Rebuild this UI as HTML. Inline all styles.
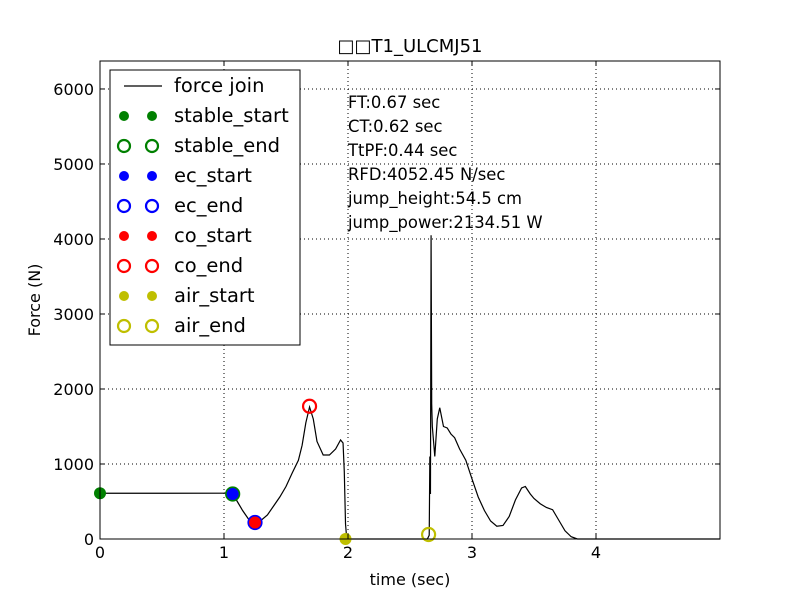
<!DOCTYPE html>
<html><head><meta charset="utf-8"><style>
body{margin:0;background:#fff;}
svg text{font-family:"DejaVu Sans","Liberation Sans","Noto Sans CJK SC",sans-serif;}
</style></head><body>
<svg id="chart" width="800" height="600" xmlns="http://www.w3.org/2000/svg">
<rect width="800" height="600" fill="#fff"/>
<g id="grid"></g>
<g id="series"></g>
<g id="markers"></g>
<rect x="100" y="61" width="620" height="478" fill="none" stroke="#000" stroke-width="1"/>
<g id="ticks"></g>
<text x="410" y="52" font-size="18" text-anchor="middle">□□T1_ULCMJ51</text>
<text x="410" y="585" font-size="16" text-anchor="middle">time (sec)</text>
<text transform="translate(40,300) rotate(-90)" font-size="16" text-anchor="middle">Force (N)</text>
<g font-size="16.4">
<text x="348" y="108">FT:0.67 sec</text>
<text x="348" y="132">CT:0.62 sec</text>
<text x="348" y="156">TtPF:0.44 sec</text>
<text x="348" y="180">RFD:4052.45 N/sec</text>
<text x="348" y="204">jump_height:54.5 cm</text>
<text x="348" y="228">jump_power:2134.51 W</text>
</g>
<g id="legend"></g>
</svg>
<script>
const timeVals=[0,0.5,1.0,1.05,1.07,1.1,1.15,1.2,1.25,1.3,1.35,1.4,1.45,1.5,1.55,1.6,1.63,1.66,1.69,1.72,1.75,1.8,1.85,1.9,1.94,1.96,1.97,1.98,1.99,2.2,2.64,2.655,2.66,2.665,2.67,2.675,2.68,2.7,2.72,2.74,2.77,2.8,2.83,2.86,2.9,2.95,3.0,3.05,3.1,3.15,3.2,3.25,3.3,3.35,3.4,3.43,3.47,3.5,3.55,3.6,3.65,3.7,3.75,3.8,3.85,4.0,5.0];
const forceVals=[610,610,612,620,600,520,380,260,215,250,320,440,560,700,880,1050,1250,1550,1760,1600,1300,1120,1120,1200,1320,1280,900,200,0,0,0,50,1100,600,4050,1800,1500,1100,1600,1750,1500,1480,1400,1350,1200,1050,800,560,380,240,170,180,300,520,680,700,600,540,470,420,390,250,110,30,0,0,0];
const markerNames=["stable_start","stable_end","ec_start","ec_end","co_start","co_end","air_start","air_end"];
const markerT=[0,1.07,1.07,1.25,1.25,1.69,1.98,2.65];
const markerF=[610,600,600,220,220,1770,0,60];
const markerColors=["#008000","#008000","#0000ff","#0000ff","#ff0000","#ff0000","#bfbf00","#bfbf00"];
const markerFilled=[true,false,true,false,true,false,true,false];
const xTicks=[0,1,2,3,4];
const yTicks=[0,1000,2000,3000,4000,5000,6000];
const X0=100,X1=720,Y0=539,Y1=61,XMAX=5.0,YMAX=6373;
const sx=t=>X0+t/XMAX*(X1-X0);
const sy=f=>Y0-f/YMAX*(Y0-Y1);
const NS="http://www.w3.org/2000/svg";
function mk(tag,attrs,parent){const e=document.createElementNS(NS,tag);for(const k in attrs)e.setAttribute(k,attrs[k]);parent.appendChild(e);return e;}
const grid=document.getElementById('grid'),ticks=document.getElementById('ticks');
xTicks.forEach(v=>{const x=sx(v);
const g=mk('line',{x1:x,x2:x,y1:Y1,y2:Y0,stroke:'#000','stroke-dasharray':'1,3','stroke-width':1},grid);


mk('line',{x1:x,x2:x,y1:Y0,y2:Y0-5,stroke:'#000'},ticks);
mk('line',{x1:x,x2:x,y1:Y1,y2:Y1+5,stroke:'#000'},ticks);
const t=mk('text',{x:x,y:Y0+19,'font-size':16,'text-anchor':'middle'},ticks);t.textContent=v;

});
yTicks.forEach(v=>{const y=sy(v);
const g=mk('line',{x1:X0,x2:X1,y1:y,y2:y,stroke:'#000','stroke-dasharray':'1,3','stroke-width':1},grid);


mk('line',{x1:X0,x2:X0+5,y1:y,y2:y,stroke:'#000'},ticks);
mk('line',{x1:X1,x2:X1-5,y1:y,y2:y,stroke:'#000'},ticks);
const t=mk('text',{x:X0-6,y:y+6,'font-size':16,'text-anchor':'end'},ticks);t.textContent=v;

});
const pts=timeVals.map((t,i)=>sx(t)+','+sy(forceVals[i])).join(' ');
const pl=mk('polyline',{points:pts,fill:'none',stroke:'#000','stroke-width':1.2},document.getElementById('series'));


const mg=document.getElementById('markers');
markerNames.forEach((n,i)=>{
const c=mk('circle',{cx:sx(markerT[i]),cy:sy(markerF[i]),r:markerFilled[i]?6:6.5,fill:markerFilled[i]?markerColors[i]:'none',stroke:markerColors[i],'stroke-width':markerFilled[i]?0:2.2},mg);

});
const lg=document.getElementById('legend');
mk('rect',{x:110,y:70,width:190,height:275,fill:'#fff',stroke:'#000'},lg);
const ly0=86;
mk('line',{x1:124,x2:162,y1:ly0,y2:ly0,stroke:'#000','stroke-width':1.2},lg);
const lt=mk('text',{x:174,y:ly0+6,'font-size':19.5},lg);lt.textContent='force join';


markerNames.forEach((n,i)=>{const y=ly0+30*(i+1);
[124,152].forEach(x=>mk('circle',{cx:x,cy:y,r:markerFilled[i]?5:6,fill:markerFilled[i]?markerColors[i]:'none',stroke:markerColors[i],'stroke-width':markerFilled[i]?0:2.2},lg));
const t=mk('text',{x:174,y:y+6,'font-size':19.5},lg);t.textContent=n;

});
</script>
</body></html>
